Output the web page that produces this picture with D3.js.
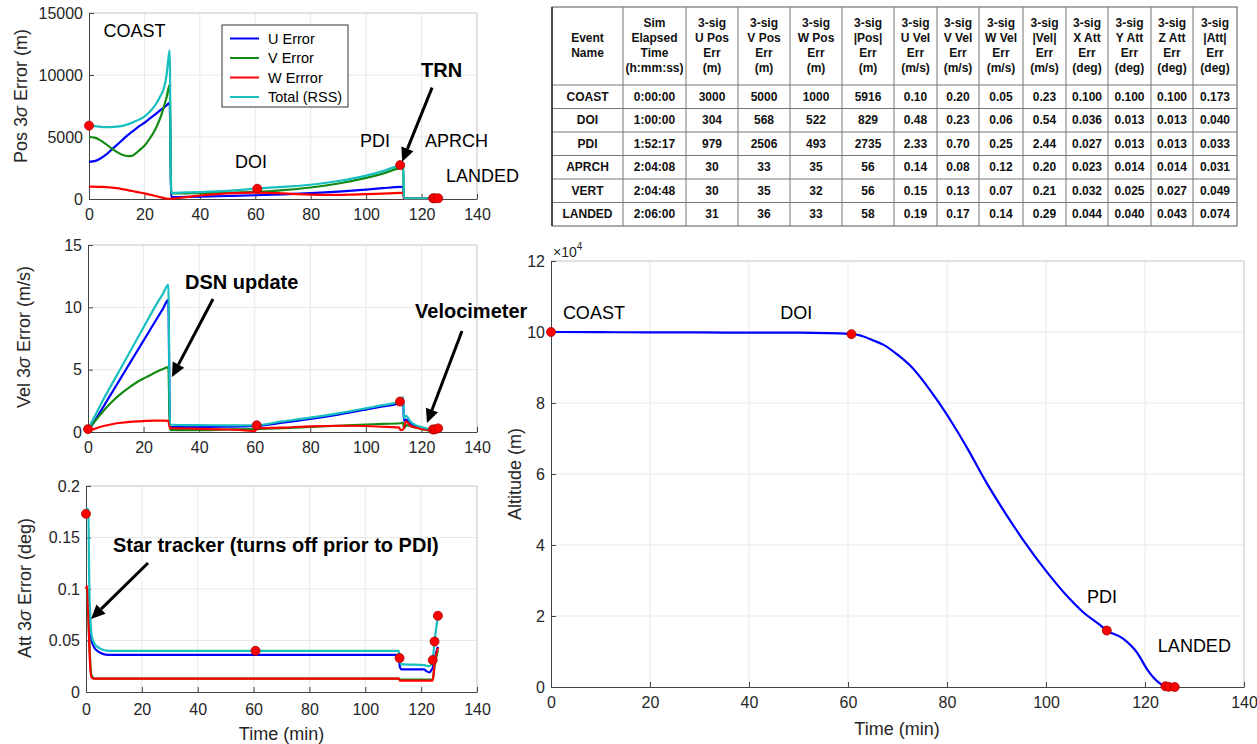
<!DOCTYPE html>
<html><head><meta charset="utf-8">
<script src="https://cdn.jsdelivr.net/npm/d3@7"></script>
<style>
body{margin:0;background:#fff;}
svg{display:block;}
</style></head><body>
<svg id="c" width="1257" height="744"></svg>
<script>
// ---------------- DATA ----------------
const eventNames = ["COAST","DOI","PDI","APRCH","VERT","LANDED"];
const eventTimes = [0, 60.7, 112.28, 124.13, 124.8, 126];
const eventAlt = [100000, 99400, 15900, 200, 50, 0];

const legendLabels = ["U Error","V Error","W Errror","Total (RSS)"];
const seriesColors = ["#0000ff","#138a13","#ff0000","#17bfbf"];

const tableHeader = [
 ["Event","Name"],
 ["Sim","Elapsed","Time","(h:mm:ss)"],
 ["3-sig","U Pos","Err","(m)"],
 ["3-sig","V Pos","Err","(m)"],
 ["3-sig","W Pos","Err","(m)"],
 ["3-sig","|Pos|","Err","(m)"],
 ["3-sig","U Vel","Err","(m/s)"],
 ["3-sig","V Vel","Err","(m/s)"],
 ["3-sig","W Vel","Err","(m/s)"],
 ["3-sig","|Vel|","Err","(m/s)"],
 ["3-sig","X Att","Err","(deg)"],
 ["3-sig","Y Att","Err","(deg)"],
 ["3-sig","Z Att","Err","(deg)"],
 ["3-sig","|Att|","Err","(deg)"]
];
const tableRows = [
 ["COAST","0:00:00","3000","5000","1000","5916","0.10","0.20","0.05","0.23","0.100","0.100","0.100","0.173"],
 ["DOI","1:00:00","304","568","522","829","0.48","0.23","0.06","0.54","0.036","0.013","0.013","0.040"],
 ["PDI","1:52:17","979","2506","493","2735","2.33","0.70","0.25","2.44","0.027","0.013","0.013","0.033"],
 ["APRCH","2:04:08","30","33","35","56","0.14","0.08","0.12","0.20","0.023","0.014","0.014","0.031"],
 ["VERT","2:04:48","30","35","32","56","0.15","0.13","0.07","0.21","0.032","0.025","0.027","0.049"],
 ["LANDED","2:06:00","31","36","33","58","0.19","0.17","0.14","0.29","0.044","0.040","0.043","0.074"]
];

const posU = [[0,3000],[2,3050],[4,3250],[6,3550],[8,3950],[10,4350],[12,4750],[14,5150],[16,5500],[18,5850],[20,6150],[22,6500],[24,6850],[26,7200],[28,7550],[29.1,7750],[29.7,150],[35,170],[40,190],[50,240],[60,304],[70,380],[80,480],[90,600],[100,760],[106,870],[112.3,979],[113.4,985],[113.6,30],[120,30],[124,30],[126,31]];
const posV = [[0,5000],[2,4950],[4,4750],[6,4450],[8,4100],[10,3800],[12,3570],[14,3460],[15.4,3480],[17,3700],[18,3900],[20,4300],[22,4900],[24,5650],[26,6700],[28,8200],[29.1,9200],[29.7,450],[35,460],[40,470],[50,510],[60,568],[70,720],[80,930],[90,1250],[100,1700],[106,2050],[112.3,2506],[113.4,2560],[113.6,33],[120,34],[126,36]];
const posW = [[0,1000],[5,980],[10,880],[14,720],[17,580],[20,450],[23,300],[26,130],[28.5,20],[29.7,20],[32,80],[35,150],[40,280],[45,380],[50,450],[55,500],[60,522],[65,500],[70,450],[75,400],[80,360],[85,340],[90,340],[95,360],[100,390],[106,440],[112.3,493],[113.4,500],[113.6,35],[120,34],[126,33]];
const posT = [[0,5916],[2,5880],[4,5830],[6,5800],[8,5800],[10,5830],[12,5900],[14,6020],[16,6200],[18,6400],[20,6650],[22,7050],[24,7600],[26,8400],[27,8900],[28,10000],[29.1,12000],[29.6,500],[35,530],[40,560],[50,650],[60,829],[70,980],[80,1150],[90,1450],[100,1880],[106,2250],[112.3,2735],[113.4,2800],[113.6,56],[120,56],[126,58]];

const velU = [[0,0.1],[3,1.1],[6,2.2],[9,3.3],[12,4.4],[15,5.5],[18,6.6],[21,7.7],[24,8.8],[27,9.9],[28.9,10.6],[29.5,0.4],[35,0.4],[40,0.4],[50,0.42],[60,0.48],[70,0.75],[80,1.05],[90,1.4],[100,1.8],[106,2.05],[112.3,2.33],[113.4,2.5],[113.7,0.9],[114.5,1.0],[116,0.7],[118,0.45],[120,0.3],[122,0.2],[124,0.14],[124.8,0.15],[126,0.19]];
const velV = [[0,0.2],[3,1.0],[6,1.8],[9,2.5],[12,3.1],[15,3.6],[18,4.05],[21,4.4],[24,4.75],[27,5.05],[28.9,5.2],[29.5,0.15],[40,0.15],[50,0.2],[60,0.23],[70,0.3],[80,0.4],[90,0.5],[100,0.6],[106,0.65],[112.3,0.7],[113.4,0.75],[113.7,0.3],[114.8,0.55],[117,0.4],[120,0.25],[122,0.15],[124,0.08],[124.8,0.13],[126,0.17]];
const velW = [[0,0.05],[3,0.3],[6,0.5],[9,0.64],[12,0.74],[15,0.81],[18,0.86],[21,0.9],[24,0.92],[27,0.92],[28.9,0.9],[29.5,0.3],[35,0.28],[40,0.25],[50,0.2],[58,0.1],[60,0.06],[61,0.3],[70,0.35],[80,0.45],[90,0.5],[100,0.48],[106,0.42],[112,0.35],[112.5,0.15],[113.4,0.2],[114.5,0.85],[116,0.5],[118,0.35],[120,0.25],[122,0.18],[124,0.12],[124.8,0.07],[126,0.14]];
const velT = [[0,0.23],[3,1.5],[6,2.8],[9,4.0],[12,5.2],[15,6.4],[18,7.6],[21,8.8],[24,10.0],[27,11.1],[28.9,11.8],[29.5,0.6],[35,0.55],[40,0.55],[50,0.53],[60,0.54],[70,0.85],[80,1.15],[90,1.5],[100,1.9],[106,2.15],[112.3,2.44],[113.4,2.8],[113.7,1.1],[114.5,1.3],[116,0.85],[118,0.55],[120,0.4],[122,0.28],[124,0.2],[124.8,0.21],[126,0.29]];

const attU = [[0,0.1],[0.5,0.1],[1,0.075],[1.5,0.06],[2,0.05],[3,0.043],[4,0.04],[6,0.037],[8,0.036],[60,0.036],[100,0.036],[112,0.036],[112.4,0.024],[113,0.022],[121,0.022],[122,0.02],[123,0.019],[123.8,0.022],[124.1,0.023],[124.8,0.032],[126,0.044]];
const attV = [[0,0.1],[0.5,0.1],[1,0.06],[1.5,0.03],[2,0.016],[3,0.013],[112,0.013],[112.4,0.012],[124,0.012],[124.3,0.014],[124.8,0.025],[126,0.04]];
const attW = [[0,0.1],[0.4,0.103],[1,0.06],[1.5,0.025],[2,0.014],[3,0.013],[112,0.013],[112.4,0.011],[124,0.011],[124.3,0.014],[124.8,0.027],[126,0.043]];
const attT = [[0,0.173],[0.3,0.178],[0.8,0.177],[1.2,0.1],[1.6,0.07],[2,0.055],[3,0.047],[4,0.044],[6,0.041],[8,0.04],[60,0.04],[112,0.04],[112.3,0.033],[112.8,0.027],[121,0.026],[123,0.025],[124.1,0.031],[124.8,0.049],[126,0.074]];

const altitude = [[0,100000],[10,99950],[20,99900],[30,99870],[40,99830],[50,99800],[61,99400],[63,98800],[65,97700],[67.3,96300],[70,93600],[72.8,90200],[77.3,82200],[81.3,73800],[84,67500],[88,57500],[92,48500],[95.4,41400],[100.4,32000],[104.4,25400],[107.4,21200],[110.9,17500],[112.3,15900],[115.5,13700],[118.5,9500],[120.5,4800],[123,1000],[124.1,200],[124.8,50],[126,0]];

const timeTicks = [0,20,40,60,80,100,120,140];
const posTicks = [0,5000,10000,15000];
const velTicks = [0,5,10,15];
const attTicks = [0,0.05,0.1,0.15,0.2];
const altTicks = [0,20000,40000,60000,80000,100000,120000];

// ---------------- DRAWING ----------------
const FONT = "'Liberation Sans', Arial, Helvetica, sans-serif";
const svg = d3.select("#c").attr("font-family", FONT);

function styleAxis(a) {
  a.attr("font-family", FONT).attr("font-size", 16);
  a.select(".domain").attr("stroke", "#444");
  a.selectAll(".tick line").attr("stroke", "#444");
  a.selectAll(".tick text").attr("fill", "#262626");
}

function panel(o) {
  const x = d3.scaleLinear().domain([0,140]).range([o.l, o.r]);
  const y = d3.scaleLinear().domain([o.yt[0], o.yt[o.yt.length-1]]).range([o.b, o.t]);
  const g = svg.append("g");
  g.append("g").selectAll("line").data(timeTicks.slice(1,-1)).join("line")
    .attr("x1", d=>x(d)).attr("x2", d=>x(d)).attr("y1", o.t).attr("y2", o.b)
    .attr("stroke", "#e9e9e9").attr("stroke-width", 1);
  g.append("g").selectAll("line").data(o.yt.slice(1,-1)).join("line")
    .attr("y1", d=>y(d)).attr("y2", d=>y(d)).attr("x1", o.l).attr("x2", o.r)
    .attr("stroke", "#e9e9e9").attr("stroke-width", 1);
  g.append("path").attr("d", `M${o.l},${o.t}H${o.r}V${o.b}`)
    .attr("fill","none").attr("stroke","#c4c4c4").attr("stroke-width",1);
  const ax = g.append("g").attr("transform", `translate(0,${o.b})`)
    .call(d3.axisBottom(x).tickValues(timeTicks).tickSizeInner(-5).tickSizeOuter(0).tickPadding(o.xpad || 10));
  const ay = g.append("g").attr("transform", `translate(${o.l},0)`)
    .call(d3.axisLeft(y).tickValues(o.yt).tickSizeInner(-5).tickSizeOuter(0).tickPadding(6).tickFormat(o.fmt));
  styleAxis(ax); styleAxis(ay);
  return {x, y, g};
}

function lines(p, series, colors) {
  const line = d3.line().x(d=>p.x(d[0])).y(d=>p.y(d[1])).curve(d3.curveMonotoneX);
  p.g.append("g").selectAll("path").data(series).join("path")
    .attr("d", line).attr("fill","none")
    .attr("stroke", (d,i)=>colors[i]).attr("stroke-width", 2.2).attr("stroke-linejoin","round");
}

function dots(p, vals) {
  p.g.append("g").selectAll("circle").data(vals).join("circle")
    .attr("cx", (d,i)=>p.x(eventTimes[i])).attr("cy", d=>p.y(d)).attr("r", 4.5)
    .attr("fill","#ff0000").attr("stroke","#a00000").attr("stroke-width",0.8);
}

function label(p, t, v, txt, size, bold) {
  p.g.append("text").attr("x", p.x(t)).attr("y", p.y(v)).text(txt)
    .attr("font-size", size).attr("font-weight", bold ? "bold" : "normal").attr("fill", "#000");
}

function arrow(p, t1, v1, t2, v2) {
  const x1 = p.x(t1), y1 = p.y(v1), x2 = p.x(t2), y2 = p.y(v2);
  const ang = Math.atan2(y2-y1, x2-x1);
  const L = 14, W = 6.5;
  const bx = x2 - L*Math.cos(ang), by = y2 - L*Math.sin(ang);
  p.g.append("line").attr("x1",x1).attr("y1",y1).attr("x2",bx).attr("y2",by)
    .attr("stroke","#000").attr("stroke-width",3);
  p.g.append("path")
    .attr("d", `M${x2},${y2}L${bx - W*Math.sin(ang)},${by + W*Math.cos(ang)}L${bx + W*Math.sin(ang)},${by - W*Math.cos(ang)}Z`)
    .attr("fill","#000");
}

function ylabel(xp, yp, parts) {
  const t = svg.append("text").attr("transform", `translate(${xp},${yp}) rotate(-90)`)
    .attr("text-anchor","middle").attr("font-size",18).attr("fill","#262626");
  parts.forEach(pt => t.append("tspan").text(pt[0]).attr("font-style", pt[1] ? "italic" : "normal"));
}

// ---- Position panel ----
const pPos = panel({l:89, r:477, t:13, b:199, yt:posTicks, fmt:d3.format("d")});
lines(pPos, [posU, posV, posW, posT], seriesColors);
dots(pPos, tableRows.map(r => +r[5]));
label(pPos, 5.2, 13070, "COAST", 18);
label(pPos, 52.7, 2462, "DOI", 18);
label(pPos, 97.8, 4195, "PDI", 18);
label(pPos, 121.2, 4195, "APRCH", 18);
label(pPos, 128.8, 1388, "LANDED", 18);
label(pPos, 119.8, 9865, "TRN", 20, true);
arrow(pPos, 123.8, 8985, 113, 3000);
ylabel(27, 96, [["Pos 3"],["σ",true],[" Error  (m)"]]);

// legend
const lg = svg.append("g");
lg.append("rect").attr("x",222).attr("y",25).attr("width",126).attr("height",82)
  .attr("fill","#fff").attr("stroke","#333").attr("stroke-width",1);
const lgRow = d3.scalePoint().domain(legendLabels).range([38.5, 97]);
legendLabels.forEach((name,i) => {
  lg.append("line").attr("x1",230).attr("x2",259).attr("y1",lgRow(name)).attr("y2",lgRow(name))
    .attr("stroke", seriesColors[i]).attr("stroke-width",2);
  lg.append("text").attr("x",268).attr("y",lgRow(name)).attr("dy","0.36em").text(name)
    .attr("font-size",14.5).attr("fill","#000");
});

// ---- Velocity panel ----
const pVel = panel({l:88, r:477, t:245, b:432, yt:velTicks, fmt:d3.format("d")});
lines(pVel, [velU, velV, velW, velT], seriesColors);
dots(pVel, tableRows.map(r => +r[9]));
label(pVel, 34.9, 11.47, "DSN update", 20, true);
arrow(pVel, 45, 10.67, 30.2, 4.41);
label(pVel, 117.7, 9.14, "Velocimeter", 20, true);
arrow(pVel, 134.6, 8.1, 122, 0.72);
ylabel(30, 337, [["Vel 3"],["σ",true],[" Error (m/s)"]]);

// ---- Attitude panel ----
const pAtt = panel({l:86, r:477, t:486, b:692, yt:attTicks, fmt:d=>String(d), xpad:12});
lines(pAtt, [attU, attV, attW, attT], seriesColors);
dots(pAtt, tableRows.map(r => +r[13]));
label(pAtt, 9.67, 0.136, "Star tracker (turns off prior to PDI)", 20, true);
arrow(pAtt, 22.2, 0.1252, 1.8, 0.0709);
ylabel(31, 588, [["Att 3"],["σ",true],[" Error (deg)"]]);
svg.append("text").attr("x",281.5).attr("y",740).attr("text-anchor","middle")
  .attr("font-size",18).attr("fill","#262626").text("Time (min)");

// ---- Altitude panel ----
const pAlt = (function(){
  const o = {l:551, r:1244, t:261, b:687};
  const x = d3.scaleLinear().domain([0,140]).range([o.l, o.r]);
  const y = d3.scaleLinear().domain([0,120000]).range([o.b, o.t]);
  const g = svg.append("g");
  g.append("g").selectAll("line").data(timeTicks.slice(1,-1)).join("line")
    .attr("x1", d=>x(d)).attr("x2", d=>x(d)).attr("y1", o.t).attr("y2", o.b).attr("stroke","#e9e9e9");
  g.append("g").selectAll("line").data(altTicks.slice(1,-1)).join("line")
    .attr("y1", d=>y(d)).attr("y2", d=>y(d)).attr("x1", o.l).attr("x2", o.r).attr("stroke","#e9e9e9");
  g.append("path").attr("d", `M${o.l},${o.t}H${o.r}V${o.b}`).attr("fill","none").attr("stroke","#c4c4c4");
  const ax = g.append("g").attr("transform", `translate(0,${o.b})`)
    .call(d3.axisBottom(x).tickValues(timeTicks).tickSizeInner(-5).tickSizeOuter(0).tickPadding(10));
  const ay = g.append("g").attr("transform", `translate(${o.l},0)`)
    .call(d3.axisLeft(y).tickValues(altTicks).tickSizeInner(-5).tickSizeOuter(0).tickPadding(6).tickFormat(d => d/1e4));
  styleAxis(ax); styleAxis(ay);
  const mult = g.append("text").attr("x", o.l + 2).attr("y", o.t - 4).attr("font-size", 14).attr("fill","#262626");
  mult.append("tspan").text("×10");
  mult.append("tspan").text("4").attr("font-size", 10).attr("dy", -7);
  return {x, y, g};
})();
lines(pAlt, [altitude], ["#0000ff"]);
dots(pAlt, eventAlt);
label(pAlt, 2.4, 103700, "COAST", 18);
label(pAlt, 46.3, 103700, "DOI", 18);
label(pAlt, 108.3, 23700, "PDI", 18);
label(pAlt, 122.6, 9940, "LANDED", 18);
svg.append("text").attr("transform","translate(521,474) rotate(-90)").attr("text-anchor","middle")
  .attr("font-size",18).attr("fill","#262626").text("Altitude (m)");
svg.append("text").attr("x",897).attr("y",735).attr("text-anchor","middle")
  .attr("font-size",18).attr("fill","#262626").text("Time (min)");

// ---- Table ----
const colWidths = [71,63,52,52,52,52,43,42,44,43,42,43,42,44];
const tX0 = 552, tY0 = 7, headH = 78, rowH = 23.5, lineH = 15;
const colEdges = [tX0];
colWidths.forEach(w => colEdges.push(colEdges[colEdges.length-1] + w));
const tY1 = tY0 + headH + rowH * tableRows.length;
const tg = svg.append("g").attr("font-family", FONT).attr("font-weight","bold").attr("font-size", 12).attr("fill","#111");
tg.append("rect").attr("x", tX0).attr("y", tY0).attr("width", colEdges[colEdges.length-1]-tX0).attr("height", tY1-tY0)
  .attr("fill","#fff").attr("stroke","#555").attr("stroke-width",1);
tg.selectAll("line.v").data(colEdges.slice(1,-1)).join("line").attr("class","v")
  .attr("x1", d=>d).attr("x2", d=>d).attr("y1", tY0).attr("y2", tY1).attr("stroke","#777").attr("stroke-width",1);
const rowEdges = d3.range(tableRows.length).map(i => tY0 + headH + i*rowH);
tg.selectAll("line.h").data(rowEdges).join("line").attr("class","h")
  .attr("x1", tX0).attr("x2", colEdges[colEdges.length-1]).attr("y1", d=>d).attr("y2", d=>d)
  .attr("stroke","#777").attr("stroke-width",1);
tg.append("line").attr("x1",tX0).attr("x2",tX0).attr("y1",tY0).attr("y2",tY1).attr("stroke","#333").attr("stroke-width",1.6);
tableHeader.forEach((lns, c) => {
  const cx = (colEdges[c] + colEdges[c+1]) / 2;
  const cy = tY0 + 38;
  lns.forEach((s, k) => {
    tg.append("text").attr("x", cx).attr("y", cy + (k - (lns.length-1)/2) * lineH)
      .attr("dy","0.35em").attr("text-anchor","middle").text(s);
  });
});
tableRows.forEach((row, r) => {
  row.forEach((s, c) => {
    tg.append("text").attr("x", (colEdges[c] + colEdges[c+1]) / 2)
      .attr("y", tY0 + headH + (r + 0.5) * rowH).attr("dy","0.35em")
      .attr("text-anchor","middle").text(s);
  });
});
</script>
</body></html>
